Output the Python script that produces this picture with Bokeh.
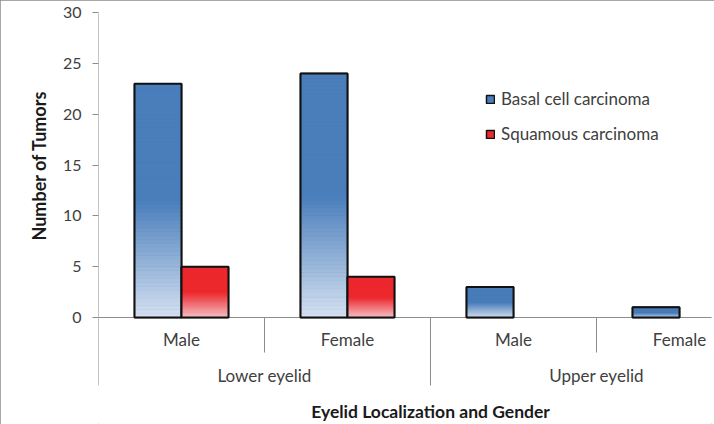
from bokeh.plotting import figure
from bokeh.models import Range1d, FixedTicker, Legend, LegendItem, ColumnDataSource, Title
from bokeh.embed import file_html
from bokeh.resources import INLINE
from bokeh.core.properties import value

# ---------------- data ----------------
groups = ["Lower eyelid", "Upper eyelid"]
genders = ["Male", "Female"]
categories = [("Lower eyelid", "Male"), ("Lower eyelid", "Female"),
              ("Upper eyelid", "Male"), ("Upper eyelid", "Female")]
basal = [23, 24, 3, 1]
squamous = [5, 4, 0, 0]
series_names = ["Basal cell carcinoma", "Squamous carcinoma"]
y_ticks = [0, 5, 10, 15, 20, 25, 30]
y_max = 30
x_title = "Eyelid Localization and Gender"
y_title = "Number of Tumors"

# ---------------- styling ----------------
FONT = "Lato"
TXT = "#404040"
AXC = "#8c8c8c"
W, H = 714, 424
LEFT, TOP, RIGHT = 98, 12, 3
PX_PER_CAT = 166.0
frame_w = W - LEFT - RIGHT
frame_h = H - TOP
zero_px = 305  # pixels from frame top to value 0
px_per_unit = zero_px / y_max
y_start = -(frame_h - zero_px) / px_per_unit
x_end = frame_w / PX_PER_CAT


def ypx(px_below_zero):
    return -px_below_zero / px_per_unit


series_vals = [basal, squamous]
top_cols = [(0x4a, 0x7e, 0xbb), (0xed, 0x2a, 0x2f)]
bot_cols = [(0xd6, 0xe1, 0xf1), (0xf6, 0xc6, 0xcb)]
bar_w = 0.283

p = figure(width=W, height=H, output_backend="svg", toolbar_location=None,
           x_range=Range1d(0, x_end), y_range=Range1d(y_start, y_max),
           x_axis_location=None, min_border_left=LEFT, min_border_top=TOP,
           min_border_bottom=0, min_border_right=RIGHT,
           styles={"outline": "1px solid #8a8a8a", "outline-offset": "-1px"})
p.outline_line_color = None
p.xgrid.visible = False
p.ygrid.visible = False
p.background_fill_color = "white"

n_cat = len(categories)

# y axis line (continues below zero as the outer category separator)
p.segment(x0=[0], y0=[y_max], x1=[0], y1=[ypx(68)], line_color=AXC, line_width=1)
# x axis line and category separators
p.segment(x0=[0], y0=[0], x1=[n_cat], y1=[0], line_color=AXC, line_width=1)
sep_x = list(range(1, n_cat))
sep_y1 = [ypx(68) if (x % len(genders) == 0) else ypx(35) for x in sep_x]
p.segment(x0=sep_x, y0=[0] * len(sep_x), x1=sep_x, y1=sep_y1, line_color=AXC, line_width=1)

legend_items = []
N = 60
for s, (vals, name) in enumerate(zip(series_vals, series_names)):
    offset = (s - 0.5) * bar_w
    xs = [i + 0.5 + offset for i, v in enumerate(vals) if v > 0]
    vs = [v for v in vals if v > 0]
    tc = top_cols[s]
    bc = bot_cols[s]
    hexc = "#%02x%02x%02x" % tc
    base = p.vbar(x=xs, top=vs, bottom=0, width=bar_w, fill_color=hexc,
                  line_color="#111111", line_width=1.5)
    L, R, B, T, C = [], [], [], [], []
    for x, v in zip(xs, vs):
        for k in range(N):
            b = v * k / N
            t = v * (k + 1) / N
            frac = 1 - (k + 0.5) / N  # 0 at top, 1 at bottom
            if frac <= 0.5:
                c = tc
            else:
                u = (frac - 0.5) / 0.5
                c = tuple(int(round(tc[j] + (bc[j] - tc[j]) * u)) for j in range(3))
            L.append(x - bar_w / 2); R.append(x + bar_w / 2)
            B.append(b); T.append(t); C.append("#%02x%02x%02x" % c)
    p.quad(source=ColumnDataSource(dict(left=L, right=R, bottom=B, top=T, color=C)),
           left="left", right="right", bottom="bottom", top="top",
           fill_color="color", line_color="color", line_width=0.6)
    p.vbar(x=xs, top=vs, bottom=0, width=bar_w, fill_color=None,
           line_color="#111111", line_width=2)
    legend_items.append(LegendItem(label=name, renderers=[base]))

# category labels
cat_x = [i + 0.5 for i in range(n_cat)]
cat_t = [c[1] for c in categories]
p.text(x=cat_x, y=[ypx(22)] * n_cat, text=cat_t, text_align="center", text_baseline="middle",
       text_font=value(FONT), text_font_size="17px", text_color=TXT)
grp_x = [len(genders) * (g + 0.5) for g in range(len(groups))]
p.text(x=grp_x, y=[ypx(58)] * len(groups), text=groups, text_align="center", text_baseline="middle",
       text_font=value(FONT), text_font_size="17px", text_color=TXT)
# x axis title
p.text(x=[n_cat / 2], y=[ypx(94)], text=[x_title], text_align="center", text_baseline="middle",
       text_font=value(FONT), text_font_size="17.5px", text_font_style="bold", text_color="#1a1a1a")

# y axis
ax = p.yaxis[0]
ax.ticker = FixedTicker(ticks=y_ticks)
ax.axis_line_color = None
ax.major_tick_line_color = AXC
ax.major_tick_out = 6
ax.major_tick_in = 0
ax.minor_tick_line_color = None
ax.major_label_standoff = 11
ax.major_label_text_font = FONT
ax.major_label_text_font_size = "16px"
ax.major_label_text_color = TXT

# y axis title (placed along the 0..30 part of the axis)
yt = Title(text=y_title, align="left", offset=frame_h - 228, text_font=FONT,
           text_font_size="18px", text_font_style="bold", text_color="#1a1a1a", standoff=20)
p.add_layout(yt, "left")

legend = Legend(items=legend_items, location=(387, 280), glyph_width=10, glyph_height=10,
                label_height=20, spacing=14, padding=0, margin=0, border_line_color=None,
                background_fill_alpha=0, label_standoff=6, label_text_font=FONT,
                label_text_font_size="17px", label_text_color=TXT)
p.add_layout(legend)

open("out.html", "w").write(file_html(p, INLINE))
